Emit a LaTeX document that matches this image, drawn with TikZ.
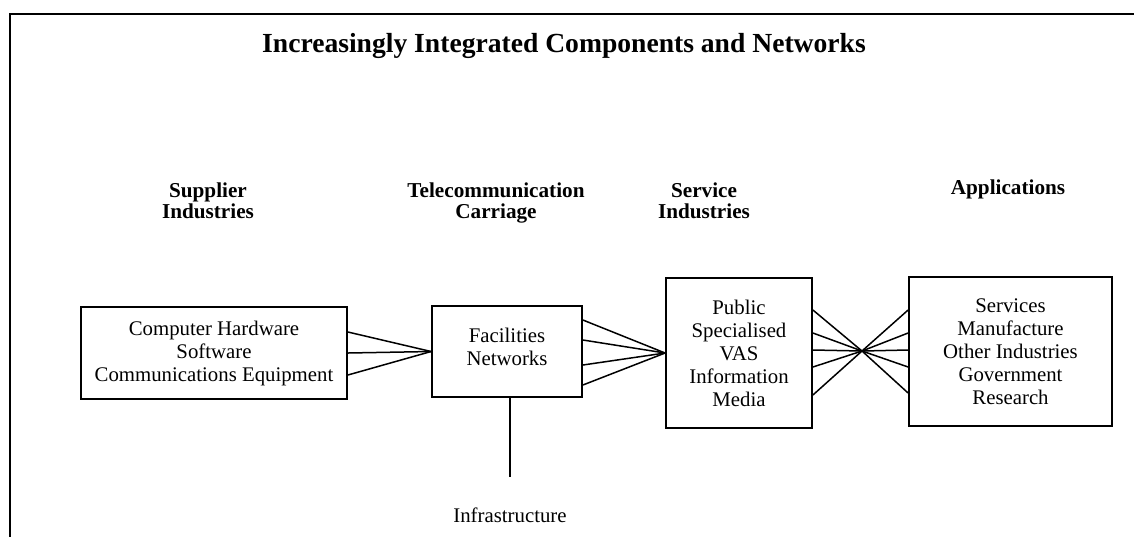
\documentclass[tikz,border=0pt]{standalone}
\usepackage{fontspec}
\setmainfont{Liberation Serif}
\usetikzlibrary{positioning}

\begin{document}
\begin{tikzpicture}[x=0.5pt, y=-0.5pt,
    box/.style={rectangle, draw, line width=0.9pt, align=center, inner sep=0pt,
        font=\fontsize{10.4}{11.5}\selectfont},
    heading/.style={anchor=north, align=center, inner sep=0pt,
        font=\fontsize{10.6}{10.5}\selectfont\bfseries},
    link/.style={line width=0.75pt}]
    \useasboundingbox (0,0) rectangle (1134,537);

    % Page frame (top and left edge only)
    \draw[line width=1pt] (1134,14) -- (10,14) -- (10,537);

    % Title
    \node[anchor=north, inner sep=0pt, font=\fontsize{13.8}{13.8}\selectfont\bfseries] (title) at (564,33)
        {Increasingly Integrated Components and Networks};

    % Column headings
    \node[heading] (hsup) at (208,182) {Supplier\\Industries};
    \node[heading] (htel) at (496,182) {Telecommunication\\Carriage};
    \node[heading] (hsvc) at (704,182) {Service\\Industries};
    \node[heading] (happ) at (1008,179) {Applications};

    % Boxes
    \node[box, minimum width=133pt, minimum height=46pt] (sup) at (214,353) {
        Computer Hardware\\
        Software\\
        Communications Equipment
    };

    \node[box, minimum width=75pt, minimum height=45.5pt, text depth=5pt] (fac) at (507,351.5) {
        Facilities\\
        Networks
    };

    \node[box, minimum width=73pt, minimum height=75pt] (svc) at (739,353) {
        Public\\
        Specialised\\
        VAS\\
        Information\\
        Media
    };

    \node[box, minimum width=101.5pt, minimum height=74.5pt] (app) at (1010.5,351.5) {
        Services\\
        Manufacture\\
        Other Industries\\
        Government\\
        Research
    };

    % Infrastructure below the carriage box
    \node[anchor=base, inner sep=0pt, font=\fontsize{10.4}{11.5}\selectfont] (infra) at (510,522) {Infrastructure};
    \draw[link, shorten >=15pt] (fac.south -| infra.north) -- (infra.north);

    % Suppliers fan in to carriage
    \draw[link] ([yshift=10.5pt]sup.east) -- (fac.west);
    \draw[link] (sup.east) -- (fac.west);
    \draw[link] ([yshift=-11pt]sup.east) -- (fac.west);

    % Carriage fans in to service industries
    \draw[link] ([yshift=15.75pt]fac.east) -- (svc.west);
    \draw[link] ([yshift=5.75pt]fac.east) -- (svc.west);
    \draw[link] ([yshift=-6.75pt]fac.east) -- (svc.west);
    \draw[link] ([yshift=-16.75pt]fac.east) -- (svc.west);

    % Services cross over to applications
    \coordinate (hub) at (862,351);
    \draw[link] ([yshift=21.5pt]svc.east) -- (hub) -- ([yshift=-20.75pt]app.west);
    \draw[link] ([yshift=10pt]svc.east) -- (hub) -- ([yshift=-7.75pt]app.west);
    \draw[link] ([yshift=1.5pt]svc.east) -- (hub) -- ([yshift=0.75pt]app.west);
    \draw[link] ([yshift=-7pt]svc.east) -- (hub) -- ([yshift=9.25pt]app.west);
    \draw[link] ([yshift=-21pt]svc.east) -- (hub) -- ([yshift=20.75pt]app.west);

\end{tikzpicture}
\end{document}
